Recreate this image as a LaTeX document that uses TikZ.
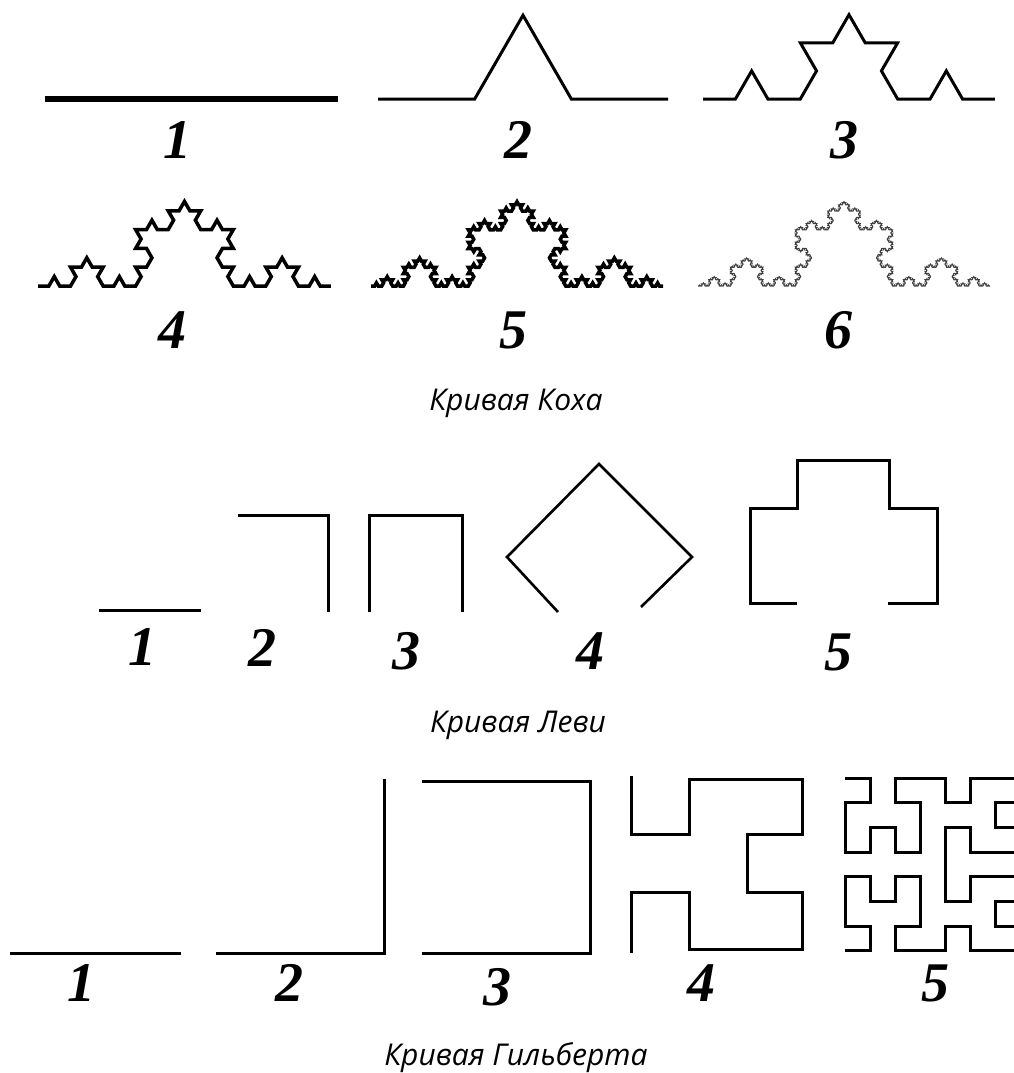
\documentclass[tikz,border=0pt]{standalone}
\usepackage{fontspec}
\setsansfont{Open Sans}
\newfontfamily\numfont{Liberation Serif}
\usetikzlibrary{lindenmayersystems}

\pgfdeclarelindenmayersystem{Koch}{\rule{F -> F+F--F+F}}

\begin{document}
\begin{tikzpicture}[x=1pt,y=-1pt,
    curve/.style={line width=3pt},
    num/.style={font=\numfont\bfseries\itshape\fontsize{56}{56}\selectfont,inner sep=0pt},
    caption/.style={font=\sffamily\itshape\fontsize{30}{36}\selectfont,inner sep=0pt}]
  \useasboundingbox (0,0) rectangle (1014,1073);
  \clip (0,0) rectangle (1014,1073);

  % Koch
  \draw[line width=6pt] (45,99) -- (338,99);
  \begin{scope}[shift={(378,99)}]
    \draw[curve] (0,0) [lindenmayer system={Koch, axiom=F, order=1, step=96.67pt, angle=60}] lindenmayer system;
  \end{scope}
  \begin{scope}[shift={(703,99)}]
    \draw[curve] (0,0) [lindenmayer system={Koch, axiom=F, order=2, step=32.44pt, angle=60}] lindenmayer system;
  \end{scope}
  \begin{scope}[shift={(38,286)}]
    \draw[line width=3.5pt] (0,0) [lindenmayer system={Koch, axiom=F, order=3, step=10.85pt, angle=60}] lindenmayer system;
  \end{scope}
  \begin{scope}[shift={(371,286)}]
    \draw[line width=3.5pt] (0,0) [lindenmayer system={Koch, axiom=F, order=4, step=3.605pt, angle=60}] lindenmayer system;
  \end{scope}
  \begin{scope}[shift={(698,286)}]
    \draw[black!75,line width=1.1pt] (0,0) [lindenmayer system={Koch, axiom=F, order=5, step=1.2016pt, angle=60}] lindenmayer system;
  \end{scope}

  \node[num] (k1) at (177,140) {1};
  \node[num] (k2) at (518,140) {2};
  \node[num] (k3) at (844,140) {3};
  \node[num] (k4) at (172,330) {4};
  \node[num] (k5) at (513,330) {5};
  \node[num] (k6) at (838,330) {6};
  \node[caption] (koch) at (516,403) {Кривая Коха};

  % Levi
  \draw[curve] (99,610) -- (201,610);
  \draw[curve] (238,515) -- (328,515) -- (328,612);
  \draw[curve] (369,612) -- (369,515) -- (462,515) -- (462,612);
  \draw[line width=2.6pt] (558,612) -- (507,557) -- (599,464) -- (692,557) -- (641,607);
  \draw[curve] (797,603) -- (750,603) -- (750,508) -- (797,508) -- (797,460)
    -- (889,460) -- (889,508) -- (937,508) -- (937,603) -- (888,603);

  \node[num] (l1) at (142,647) {1};
  \node[num] (l2) at (262,648) {2};
  \node[num] (l3) at (406,651) {3};
  \node[num] (l4) at (590,651) {4};
  \node[num] (l5) at (838,652) {5};
  \node[caption] (levi) at (518,725) {Кривая Леви};

  % Hilbert
  \draw[curve] (10,953) -- (181,953);
  \draw[curve] (216,953) -- (384,953) -- (384,779);
  \draw[curve] (422,781) -- (590,781) -- (590,953) -- (422,953);
  \draw[curve] (631,776) -- (631,834) -- (689,834) -- (689,779) -- (802,779)
    -- (802,834) -- (747,834) -- (747,892) -- (802,892) -- (802,949)
    -- (689,949) -- (689,892) -- (631,892) -- (631,953);
  \begin{scope}[shift={(845,778)},x=25pt,y=-24.7pt]
    \draw[curve] (0,0) -- (1,0) -- (1,1) -- (0,1) -- (0,3) -- (1,3) -- (1,2)
      -- (2,2) -- (2,3) -- (3,3) -- (3,1) -- (2,1) -- (2,0) -- (4,0) -- (4,1)
      -- (5,1) -- (5,0) -- (7,0) -- (7,1) -- (6,1) -- (6,2) -- (7,2) -- (7,3)
      -- (5,3) -- (5,2) -- (4,2) -- (4,5) -- (5,5) -- (5,4) -- (7,4) -- (7,5)
      -- (6,5) -- (6,6) -- (7,6) -- (7,7) -- (5,7) -- (5,6) -- (4,6) -- (4,7)
      -- (2,7) -- (2,6) -- (3,6) -- (3,4) -- (2,4) -- (2,5) -- (1,5) -- (1,4)
      -- (0,4) -- (0,6) -- (1,6) -- (1,7) -- (0,7);
  \end{scope}

  \node[num] (h1) at (81,983) {1};
  \node[num] (h2) at (289,983) {2};
  \node[num] (h3) at (497,987) {3};
  \node[num] (h4) at (701,983) {4};
  \node[num] (h5) at (935,983) {5};
  \node[caption] (hilbert) at (516,1058) {Кривая Гильберта};
\end{tikzpicture}
\end{document}
